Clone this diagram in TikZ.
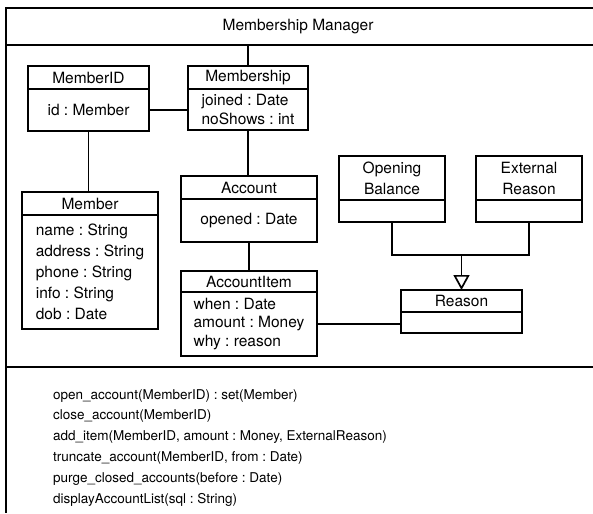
\documentclass[tikz,border=0pt]{standalone}
\usepackage{fontspec}
\setmainfont{TeX Gyre Heros}
\usepackage{tikz}
\usetikzlibrary{arrows.meta,positioning}

\begin{document}
\frenchspacing
\begin{tikzpicture}[x=1pt,y=-1pt]
\tikzstyle{every node} = [font = \fontsize{15.5}{20}\selectfont]
\tikzstyle{cls} = [draw, line width = 1.7pt, inner sep = 0pt, outer sep = 0pt, align = center]
\tikzstyle{attr} = [draw, line width = 1.7pt, inner sep = 0pt, outer sep = 0pt, align = center]
\tikzstyle{link} = [line width = 1.7pt]
\tikzstyle{frame} = [line width = 1.8pt]
\useasboundingbox (0,0) rectangle (593,513);
		% manager frame
		\draw[frame] (593,8) -- (6,8) -- (6,513);
		\draw[frame] (6,45) -- (593,45);
		\draw[frame] (6,367) -- (593,367);
		\node (title) at (298,27) {Membership Manager};
		\coordinate (hdr) at (248,45);
		% classes
		\node [cls, minimum width = 121, minimum height = 23] (memberid) at (88.5,77.5) {MemberID};
		\node [attr, minimum width = 121, minimum height = 42, below = 0pt of memberid] (memberid-attr) {id : Member};
		\node [cls, minimum width = 120, minimum height = 23] (membership) at (248,77.5) {Membership};
		\node [attr, minimum width = 120, minimum height = 41, below = 0pt of membership,
			align = left, font = \fontsize{15.5}{19}\selectfont] (membership-attr) {joined : Date\\noShows : int};
		\node [cls, minimum width = 136, minimum height = 23] (member) at (90,203.5) {Member};
		\node [attr, minimum width = 136, minimum height = 114, below = 0pt of member,
			align = left, font = \fontsize{15.5}{21}\selectfont] (member-attr)
			{name : String\\address : String\\phone : String\\info : String\\dob : Date};
		\node [cls, minimum width = 136, minimum height = 23] (account) at (249,187.5) {Account};
		\node [attr, minimum width = 136, minimum height = 43, below = 0pt of account] (account-attr) {opened : Date};
		\node [cls, minimum width = 136, minimum height = 21] (accountitem) at (249,281.5) {AccountItem};
		\node [attr, minimum width = 136, minimum height = 64, below = 0pt of accountitem,
			align = left, font = \fontsize{15.5}{18.5}\selectfont] (accountitem-attr)
			{when : Date\\amount : Money\\why : reason};
		\node [cls, minimum width = 106, minimum height = 44, font = \fontsize{15.5}{21}\selectfont] (opening) at (392,178) {Opening\\Balance};
		\node [attr, minimum width = 106, minimum height = 22, below = 0pt of opening] (opening-attr) {};
		\node [cls, minimum width = 106, minimum height = 44, font = \fontsize{15.5}{21}\selectfont] (external) at (529,178) {External\\Reason};
		\node [attr, minimum width = 106, minimum height = 22, below = 0pt of external] (external-attr) {};
		\node [cls, minimum width = 121, minimum height = 22] (reason) at (461.5,301) {Reason};
		\node [attr, minimum width = 121, minimum height = 21, below = 0pt of reason] (reason-attr) {};
		\coordinate (gen) at (461.5,255);
		% associations
		\draw[link] (hdr) -- (membership.north);
		\draw[link] (memberid-attr.east) -- (membership-attr.west |- memberid-attr.east);
		\draw[link] (memberid-attr.south) -- (memberid-attr.south |- member.north);
		\draw[link] (membership-attr.south) -- (membership-attr.south |- account.north);
		\draw[link] (account-attr.south) -- (accountitem.north);
		\draw[link] (accountitem-attr.east) -- (accountitem-attr.east -| reason-attr.west);
		% generalisation
		\draw[link] (opening-attr.south) |- (gen) -| (external-attr.south);
		\draw[link, -{Triangle[open, length = 15pt, width = 16pt]}] (gen) -- (reason.north);
		% operations
		\node [anchor = north west, inner sep = 0pt, align = left, font = \fontsize{13.5}{20.8}\selectfont] (ops) at (53,389)
			{open\_account(MemberID) : set(Member)\\
			close\_account(MemberID)\\
			add\_item(MemberID, amount : Money, ExternalReason)\\
			truncate\_account(MemberID, from : Date)\\
			purge\_closed\_accounts(before : Date)\\
			displayAccountList(sql : String)};
\end{tikzpicture}
\end{document}
